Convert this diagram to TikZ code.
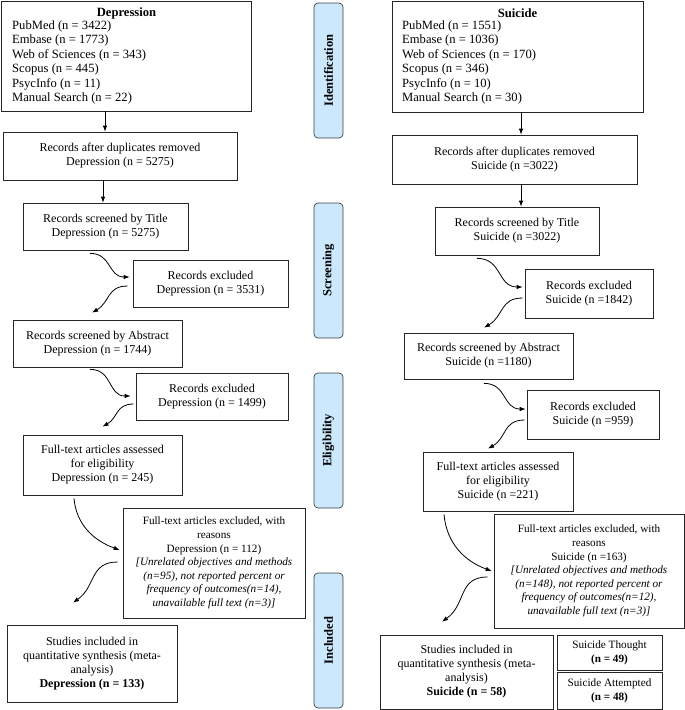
\documentclass[tikz,border=0pt]{standalone}
\usepackage{fontspec}
\setmainfont{Liberation Serif}
\usetikzlibrary{arrows.meta,positioning}
\definecolor{phasecol}{RGB}{204,232,252}
\tikzset{
  box/.style={draw=black!85, line width=0.7pt, fill=white, inner sep=2pt, align=center,
    font=\fontsize{12}{14}\selectfont},
  smallbox/.style={box, font=\fontsize{11.2}{13.6}\selectfont},
  srctext/.style={inner sep=0pt, align=left, anchor=north west, font=\fontsize{12.6}{14.4}\selectfont},
  phase/.style={draw=black!75, line width=0.7pt, rounded corners=4pt, fill=phasecol,
    minimum width=135pt, minimum height=29pt, rotate=90, inner sep=0pt,
    font=\fontsize{12.5}{14}\selectfont\bfseries},
  arr/.style={-{Latex[length=6pt,width=4.5pt]}, line width=0.8pt},
}
\begin{document}
\begin{tikzpicture}[x=1pt,y=1pt]
\useasboundingbox (0,0) rectangle (685,-710);

% ---------- phases ----------
\node[phase] (pid)  at (328.5,-70.5)  {Identification};
\node[phase] (pscr) at (328.5,-270.5) {Screening};
\node[phase] (pel)  at (328.5,-440.5) {Eligibility};
\node[phase] (pinc) at (328.5,-640.5) {Included};

% ---------- left column (Depression) ----------
\node[box, minimum width=250pt, minimum height=110pt] (dsrc) at (126.5,-56) {};
\node[inner sep=0pt, font=\fontsize{12.6}{14}\selectfont\bfseries] (dsrch) at (126.5,-13) {Depression};
\node[srctext] (dsrcl) at (12,-20.5) {PubMed (n = 3422)\\Embase (n = 1773)\\Web of Sciences (n = 343)\\Scopus (n = 445)\\PsycInfo (n = 11)\\Manual Search (n = 22)};

\node[box, minimum width=234pt, minimum height=48pt] (ddup) at (120,-156) {Records after duplicates removed\\Depression (n = 5275)};
\node[box, minimum width=165pt, minimum height=47pt] (dtitle) at (105.5,-226.5) {Records screened by Title\\Depression (n = 5275)};
\node[box, minimum width=155pt, minimum height=47pt] (dex1) at (210.5,-283.5) {Records excluded\\Depression (n = 3531)};
\node[box, minimum width=169pt, minimum height=47pt] (dabs) at (97.5,-343.5) {Records screened by Abstract\\Depression (n = 1744)};
\node[box, minimum width=152pt, minimum height=47pt] (dex2) at (212,-396.5) {Records excluded\\Depression (n = 1499)};
\node[box, minimum width=159pt, minimum height=60pt] (dfull) at (102.5,-465) {Full-text articles assessed\\for eligibility\\Depression (n = 245)};
\node[smallbox, minimum width=182pt, minimum height=110pt] (dexf) at (214,-563) {Full-text articles excluded, with\\reasons\\Depression (n = 112)\\\itshape [Unrelated objectives and methods\\\itshape (n=95), not reported percent or\\\itshape frequency of outcomes(n=14),\\\itshape unavailable full text (n=3)]};
\node[box, minimum width=170pt, minimum height=77pt] (dinc) at (92,-663.5) {Studies included in\\quantitative synthesis (meta-\\analysis)\\\textbf{Depression (n = 133)}};

% ---------- right column (Suicide) ----------
\node[box, minimum width=251pt, minimum height=111pt] (ssrc) at (517.5,-56.5) {};
\node[inner sep=0pt, font=\fontsize{12.6}{14}\selectfont\bfseries] (ssrch) at (517.5,-13) {Suicide};
\node[srctext] (ssrcl) at (402,-20.5) {PubMed (n = 1551)\\Embase (n = 1036)\\Web of Sciences (n = 170)\\Scopus (n = 346)\\PsycInfo (n = 10)\\Manual Search (n = 30)};

\node[box, minimum width=245pt, minimum height=49pt] (sdup) at (514.5,-159.5) {Records after duplicates removed\\Suicide (n =3022)};
\node[box, minimum width=164pt, minimum height=48pt] (stitle) at (517,-231) {Records screened by Title\\Suicide (n =3022)};
\node[box, minimum width=128pt, minimum height=49pt] (sex1) at (589,-293.5) {Records excluded\\Suicide (n =1842)};
\node[box, minimum width=169pt, minimum height=46pt] (sabs) at (488.5,-356) {Records screened by Abstract\\Suicide (n =1180)};
\node[box, minimum width=132pt, minimum height=49pt] (sex2) at (593,-414.5) {Records excluded\\Suicide (n =959)};
\node[box, minimum width=150pt, minimum height=59pt] (sfull) at (498,-481.5) {Full-text articles assessed\\for eligibility\\Suicide (n =221)};
\node[smallbox, minimum width=190pt, minimum height=114pt] (sexf) at (589,-571) {Full-text articles excluded, with\\reasons\\Suicide (n =163)\\\itshape [Unrelated objectives and methods\\\itshape (n=148), not reported percent or\\\itshape frequency of outcomes(n=12),\\\itshape unavailable full text (n=3)]};
\node[box, minimum width=173pt, minimum height=74pt] (sinc) at (466.5,-672) {Studies included in\\quantitative synthesis (meta-\\analysis)\\\textbf{Suicide (n = 58)}};
\node[smallbox, minimum width=105pt, minimum height=35pt] (sth) at (609.5,-652.5) {Suicide Thought\\\textbf{(n = 49)}};
\node[smallbox, minimum width=105pt, minimum height=37pt] (satt) at (609.5,-690.5) {Suicide Attempted\\\textbf{(n = 48)}};

% ---------- straight arrows ----------
\draw[arr] ([xshift=-21.5pt]dsrc.south) -- ([xshift=-15pt]ddup.north);
\draw[arr] ([xshift=-17pt]ddup.south) -- ([xshift=-2.5pt]dtitle.north);
\draw[arr] ([xshift=3.5pt]ssrc.south) -- ([xshift=6.5pt]sdup.north);
\draw[arr] ([xshift=6.5pt]sdup.south) -- ([xshift=4pt]stitle.north);

% ---------- left curved arrows ----------
\coordinate (d1s) at ([xshift=-15.5pt,yshift=-3pt]dtitle.south);
\coordinate (d1e) at ([xshift=-3pt,yshift=6.5pt]dex1.west);
\coordinate (d2s) at ([xshift=-5pt,yshift=-2.5pt]dex1.west);
\coordinate (d2e) at ([xshift=-5.5pt,yshift=7pt]dabs.north);
\coordinate (d3s) at ([xshift=-7.5pt,yshift=-2pt]dabs.south);
\coordinate (d3e) at ([xshift=-5pt,yshift=0.5pt]dex2.west);
\coordinate (d4s) at ([xshift=-2pt,yshift=-7.5pt]dex2.west);
\coordinate (d4e) at ([xshift=0pt,yshift=8pt]dfull.north);
\coordinate (d5s) at ([xshift=-28.5pt,yshift=-3pt]dfull.south);
\coordinate (d5e) at ([xshift=-3pt,yshift=13pt]dexf.west);
\coordinate (d6s) at ([xshift=-5pt,yshift=1pt]dexf.west);
\coordinate (d6e) at ([xshift=-19pt,yshift=22pt]dinc.north);
\draw[arr] (d1s) to[out=0,in=180,looseness=1.2] (d1e);
\draw[arr] (d2s) to[out=180,in=30,looseness=1.2] (d2e);
\draw[arr] (d3s) to[out=0,in=180,looseness=1.2] (d3e);
\draw[arr] (d4s) to[out=180,in=30,looseness=1.2] (d4e);
\draw[arr] (d5s) to[out=-85,in=160] (d5e);
\draw[arr] (d6s) to[out=180,in=35,looseness=1.2] (d6e);

% ---------- right curved arrows ----------
\coordinate (s1s) at ([xshift=-40pt,yshift=-3pt]stitle.south);
\coordinate (s1e) at ([xshift=-2pt,yshift=6.5pt]sex1.west);
\coordinate (s2s) at ([xshift=-2pt,yshift=-4.5pt]sex1.west);
\coordinate (s2e) at ([xshift=-4.5pt,yshift=5pt]sabs.north);
\coordinate (s3s) at ([xshift=-4.5pt,yshift=-4pt]sabs.south);
\coordinate (s3e) at ([xshift=-1pt,yshift=5.5pt]sex2.west);
\coordinate (s4s) at ([xshift=-2pt,yshift=-5.5pt]sex2.west);
\coordinate (s4e) at ([xshift=-10pt,yshift=3pt]sfull.north);
\coordinate (s5s) at ([xshift=-54pt,yshift=-3pt]sfull.south);
\coordinate (s5e) at ([xshift=-2pt,yshift=0pt]sexf.west);
\coordinate (s6s) at ([xshift=-6pt,yshift=-6pt]sexf.west);
\coordinate (s6e) at ([xshift=-24.5pt,yshift=13pt]sinc.north);
\draw[arr] (s1s) to[out=0,in=180,looseness=1.2] (s1e);
\draw[arr] (s2s) to[out=180,in=30,looseness=1.2] (s2e);
\draw[arr] (s3s) to[out=0,in=180,looseness=1.2] (s3e);
\draw[arr] (s4s) to[out=180,in=30,looseness=1.2] (s4e);
\draw[arr] (s5s) to[out=-85,in=160] (s5e);
\draw[arr] (s6s) to[out=180,in=35,looseness=1.2] (s6e);
\end{tikzpicture}
\end{document}
